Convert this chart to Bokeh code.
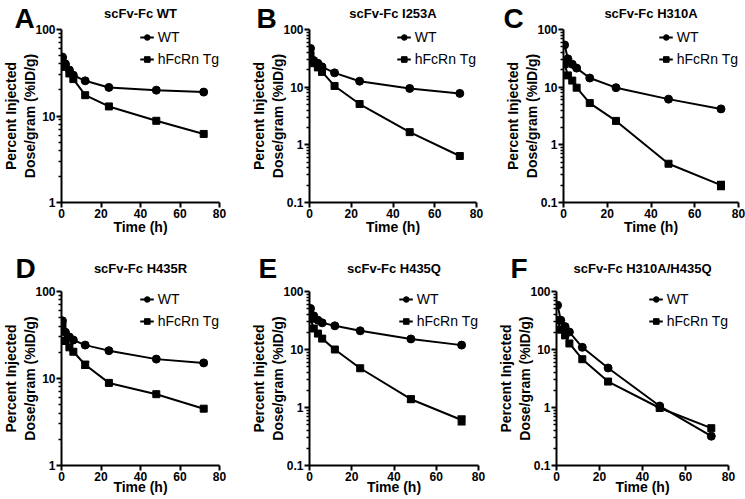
import math
from bokeh.plotting import figure
from bokeh.layouts import column, row
from bokeh.models import (Range1d, FixedTicker, CustomJSTickFormatter, Title, LinearAxis,
                          Whisker, TeeHead, ColumnDataSource)
from bokeh.embed import file_html
from bokeh.resources import INLINE

# ---------------- data ----------------
time_h = [0.5, 2, 4, 6, 12, 24, 48, 72]
series_labels = ["WT", "hFcRn Tg"]
x_ticks = [0, 20, 40, 60, 80]

titles = ["scFv-Fc WT", "scFv-Fc I253A", "scFv-Fc H310A",
          "scFv-Fc H435R", "scFv-Fc H435Q", "scFv-Fc H310A/H435Q"]
letters = ["A", "B", "C", "D", "E", "F"]

wt_A = [48, 40, 34, 29.6, 25.5, 21.4, 19.9, 18.9]
tg_A = [45, 37, 31, 26.7, 17.4, 12.9, 8.8, 6.2]
wt_B = [47, 29, 26, 22.5, 17.7, 12.7, 9.5, 7.8]
tg_B = [36, 26, 22, 18.4, 10.5, 5.1, 1.66, 0.64]
wt_C = [54, 31, 25, 21.4, 14.4, 9.8, 6.2, 4.2]
tg_C = [25, 16, 13, 9.8, 5.3, 2.6, 0.47, 0.20]
wt_D = [46, 34, 30, 27.7, 24.2, 20.9, 16.7, 15.1]
tg_D = [40, 27, 22.8, 20.3, 14.4, 8.9, 6.6, 4.5]
wt_E = [51, 38, 32, 28.8, 25.6, 21, 15.2, 11.9]
tg_E = [34, 23, 18.8, 15.4, 10, 4.75, 1.39, 0.61]
wt_F = [58, 32, 24.8, 20, 10.9, 4.8, 1.06, 0.32]
tg_F = [32, 22, 17.5, 12.7, 6.8, 2.8, 0.98, 0.44]

err_tg_A = [0, 0, 0, 0, 0, 0, 0, 0]
err_tg_B = [0, 0, 0, 0, 0, 0, 0, 0]
err_tg_C = [0, 0, 0, 0, 0, 0, 0, 0.03]
err_tg_D = [0, 0, 0, 0, 1.2, 0, 0, 0]
err_tg_E = [0, 0, 0, 0, 0, 0, 0.15, 0.1]
err_tg_F = [0, 0, 0, 0, 0, 0, 0, 0]

y_ranges = [(1, 100), (0.1, 100), (0.1, 100), (1, 100), (0.1, 100), (0.1, 100)]
wt_all = [wt_A, wt_B, wt_C, wt_D, wt_E, wt_F]
tg_all = [tg_A, tg_B, tg_C, tg_D, tg_E, tg_F]
err_all = [err_tg_A, err_tg_B, err_tg_C, err_tg_D, err_tg_E, err_tg_F]

# ---------------- layout (px) ----------------
# width, height, left, right, top, bottom, letter_x
geom = [
    (248, 250, 49, 29, 29, 48, 2),
    (247, 250, 58, 19, 29, 48, 5),
    (250, 250, 68, 7, 29, 48, 8),
    (248, 249, 49, 29, 41, 34, 3),
    (247, 249, 58, 17, 41, 34, 7),
    (250, 249, 59, 17, 41, 34, 13),
]
# header stacking per row: spacer standoff, letter standoff, title standoff, x-label standoff
header = {0: (-12, -21, -9, -2), 1: (0, -21, -14, -5)}

FONT = "Liberation Sans"


def make_panel(i):
    W, H, L, R, T, B, lx = geom[i]
    spacer_so, letter_so, title_so, xlab_so = header[i // 3]
    ymin, ymax = y_ranges[i]
    p = figure(width=W, height=H, y_axis_type="log",
               x_range=Range1d(0, 80), y_range=Range1d(ymin, ymax),
               min_border_left=L, min_border_right=R,
               min_border_top=T, min_border_bottom=B,
               output_backend="svg", toolbar_location=None, title=None)
    p.outline_line_color = None
    p.xgrid.visible = False
    p.ygrid.visible = False
    p.background_fill_color = "white"
    p.border_fill_color = "white"

    # y axis
    e0 = int(round(math.log10(ymin)))
    e1 = int(round(math.log10(ymax)))
    major = [10.0 ** e for e in range(e0, e1 + 1)]
    minor = [m * 10.0 ** e for e in range(e0, e1) for m in range(2, 10)]
    p.yaxis.ticker = FixedTicker(ticks=major, minor_ticks=minor)
    p.yaxis.formatter = CustomJSTickFormatter(
        code="return tick >= 1 ? tick.toFixed(0) : String(parseFloat(tick.toPrecision(3)));")
    p.yaxis.axis_label = "Percent Injected\nDose/gram (%ID/g)"
    p.yaxis.axis_label_standoff = -6

    p.xaxis.ticker = FixedTicker(ticks=x_ticks)
    p.xaxis.axis_label = "Time (h)"
    p.xaxis.axis_label_standoff = xlab_so

    for ax in (p.xaxis, p.yaxis):
        ax.axis_line_width = 2
        ax.axis_line_color = "black"
        ax.major_tick_line_width = 2
        ax.major_tick_line_color = "black"
        ax.major_tick_out = 5
        ax.major_tick_in = 0
        ax.minor_tick_line_width = 1.5
        ax.minor_tick_line_color = "black"
        ax.minor_tick_out = 3
        ax.minor_tick_in = 0
        ax.major_label_text_font = FONT
        ax.major_label_text_font_style = "bold"
        ax.major_label_text_font_size = "12px"
        ax.major_label_text_color = "black"
        ax.major_label_standoff = 1
        ax.axis_label_text_font = FONT
        ax.axis_label_text_font_style = "bold"
        ax.axis_label_text_font_size = "14px"
        ax.axis_label_text_color = "black"
    p.xaxis.minor_tick_out = 0

    wt = wt_all[i]
    tg = tg_all[i]
    p.line(time_h, wt, line_width=2, color="black", legend_label=series_labels[0])
    p.scatter(time_h, wt, marker="circle", size=8, color="black", legend_label=series_labels[0])
    p.line(time_h, tg, line_width=2, color="black", legend_label=series_labels[1])
    p.scatter(time_h, tg, marker="square", size=7, color="black", legend_label=series_labels[1])

    err = err_all[i]
    ex = [t for t, e in zip(time_h, err) if e > 0]
    if ex:
        lo = [v - e for v, e in zip(tg, err) if e > 0]
        hi = [v + e for v, e in zip(tg, err) if e > 0]
        src = ColumnDataSource(dict(x=ex, lower=lo, upper=hi))
        p.add_layout(Whisker(source=src, base="x", lower="lower", upper="upper",
                             dimension="height", line_width=2, line_color="black",
                             upper_head=TeeHead(size=8, line_width=2, line_color="black"),
                             lower_head=TeeHead(size=8, line_width=2, line_color="black")))

    leg = p.legend[0]
    leg.location = "top_right"
    leg.border_line_alpha = 0
    leg.background_fill_alpha = 0
    leg.margin = 0
    leg.padding = 0
    leg.spacing = 6
    leg.label_height = 14
    leg.glyph_height = 14
    leg.glyph_width = 14
    leg.label_standoff = 4
    leg.label_text_font = FONT
    leg.label_text_font_size = "14px"
    leg.label_text_color = "black"

    # header: blank spacer axis, panel letter (left-aligned Title), title as label of empty top axis
    def empty_top_axis(label, standoff):
        return LinearAxis(ticker=FixedTicker(ticks=[]), axis_label=label,
                          axis_line_color=None, major_tick_line_color=None,
                          minor_tick_line_color=None, major_tick_out=0, minor_tick_out=0,
                          major_label_standoff=0, axis_label_standoff=standoff,
                          axis_label_text_font=FONT, axis_label_text_font_style="bold",
                          axis_label_text_font_size="13px", axis_label_text_color="black")

    spacer_axis = empty_top_axis(" ", spacer_so)
    letter = Title(text=letters[i], align="left", offset=lx - L, vertical_align="bottom",
                   standoff=letter_so, text_font=FONT, text_font_style="bold",
                   text_font_size="28px", text_color="black")
    title_axis = empty_top_axis(titles[i], title_so)
    p.add_layout(spacer_axis, "above")
    p.add_layout(letter, "above")
    p.add_layout(title_axis, "above")
    return p


panels = [make_panel(i) for i in range(6)]
layout = column(row(*panels[:3]), row(*panels[3:]))

open("out.html", "w").write(file_html(layout, INLINE))
